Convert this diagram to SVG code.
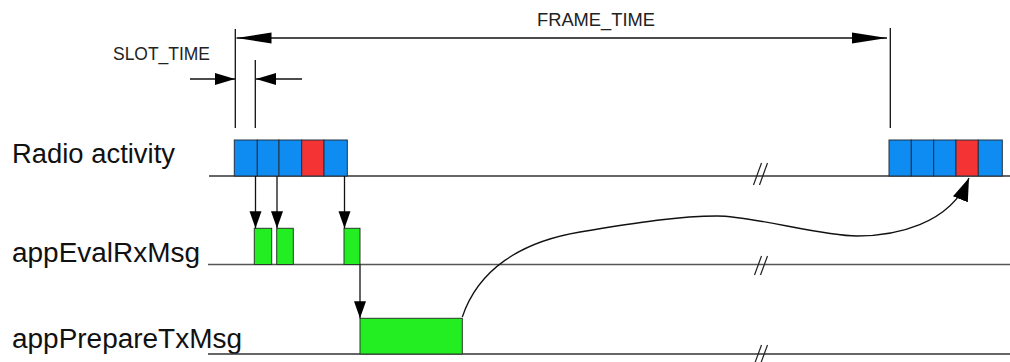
<svg xmlns="http://www.w3.org/2000/svg" width="1010" height="362" viewBox="0 0 1010 362">
  <style>
    .lbl { font-family: "Liberation Sans", Arial, sans-serif; font-size: 27px; fill: #111; }
    .dim { font-family: "Liberation Sans", Arial, sans-serif; font-size: 18px; fill: #222; }
    .axis { stroke: #333; stroke-width: 1.6; fill: none; }
    .axis2 { stroke: #555; stroke-width: 1.6; fill: none; }
    .guide { stroke: #111; stroke-width: 1.3; fill: none; }
    .brk { stroke: #222; stroke-width: 1.2; fill: none; }
    .slot-b { fill: #0f8cf2; stroke: #243040; stroke-width: 1; }
    .slot-r { fill: #f43434; stroke: #243040; stroke-width: 1; }
    .task { fill: #22ee22; stroke: #2a3a2a; stroke-width: 1; }
    .conn { stroke: #111; stroke-width: 1.3; fill: none; }
  </style>
  <defs>
    <marker id="headLong" markerUnits="userSpaceOnUse" markerWidth="36" markerHeight="12" refX="35" refY="6" orient="auto-start-reverse">
      <path d="M0,0.5 L35,6 L0,11.5 Z" fill="#000"/>
    </marker>
    <marker id="headShort" markerUnits="userSpaceOnUse" markerWidth="21" markerHeight="13" refX="20" refY="6.5" orient="auto">
      <path d="M0,0.5 L20,6.5 L0,12.5 Z" fill="#000"/>
    </marker>
    <marker id="headDown" markerUnits="userSpaceOnUse" markerWidth="18" markerHeight="13" refX="17" refY="6.5" orient="auto">
      <path d="M0,0.5 L17,6.5 L0,12.5 Z" fill="#000"/>
    </marker>
    <marker id="headCurve" markerUnits="userSpaceOnUse" markerWidth="24" markerHeight="17" refX="23" refY="8.5" orient="auto">
      <path d="M0,0.5 L23,8.5 L0,16.5 Z" fill="#000"/>
    </marker>
  </defs>

  <rect width="1010" height="362" fill="#fff"/>

  <!-- dimension guides -->
  <g id="dimensions">
    <line class="guide" x1="235.3" y1="29" x2="235.3" y2="128"/>
    <line class="guide" x1="255.3" y1="60" x2="255.3" y2="128"/>
    <line class="guide" x1="890.3" y1="28" x2="890.3" y2="128"/>
    <path class="guide" d="M236.5,38 H887" marker-start="url(#headLong)" marker-end="url(#headLong)"/>
    <path class="guide" d="M190,79 H235" marker-end="url(#headShort)"/>
    <path class="guide" d="M302,79 H256" marker-end="url(#headShort)"/>
    <text class="dim" x="537" y="26" textLength="118" lengthAdjust="spacingAndGlyphs">FRAME_TIME</text>
    <text class="dim" x="113" y="60" textLength="97" lengthAdjust="spacingAndGlyphs">SLOT_TIME</text>
  </g>

  <!-- timeline rows -->
  <g id="row-radio">
    <text class="lbl" x="12" y="163" textLength="163" lengthAdjust="spacingAndGlyphs">Radio activity</text>
    <line class="axis" x1="209" y1="176" x2="1010" y2="176"/>
    <path class="brk" d="M761.5,163 L753.5,185 M767.5,163 L759.5,185"/>
  </g>
  <g id="row-eval">
    <text class="lbl" x="12" y="262" textLength="188" lengthAdjust="spacingAndGlyphs">appEvalRxMsg</text>
    <line class="axis2" x1="208" y1="264.5" x2="1010" y2="264.5"/>
    <path class="brk" d="M761.5,256 L754.5,275 M767.5,256 L760.5,275"/>
  </g>
  <g id="row-prepare">
    <text class="lbl" x="12" y="348" textLength="230" lengthAdjust="spacingAndGlyphs">appPrepareTxMsg</text>
    <line class="axis" x1="208" y1="354" x2="1010" y2="354"/>
    <path class="brk" d="M761.5,345 L754.5,364 M767.5,345 L760.5,364"/>
  </g>

  <!-- radio slots, first frame -->
  <g id="frame-1">
    <rect class="slot-b" x="234.3" y="140" width="23" height="36"/>
    <rect class="slot-b" x="257.3" y="140" width="21.7" height="36"/>
    <rect class="slot-b" x="279" y="140" width="22.7" height="36"/>
    <rect class="slot-r" x="301.7" y="140" width="22.3" height="36"/>
    <rect class="slot-b" x="324" y="140" width="23.3" height="36"/>
  </g>

  <!-- radio slots, next frame -->
  <g id="frame-2">
    <rect class="slot-b" x="889" y="140" width="22.3" height="36"/>
    <rect class="slot-b" x="911.3" y="140" width="22.4" height="36"/>
    <rect class="slot-b" x="933.7" y="140" width="22.3" height="36"/>
    <rect class="slot-r" x="956" y="140" width="22.3" height="36"/>
    <rect class="slot-b" x="978.3" y="140" width="24" height="36"/>
  </g>

  <!-- task activity -->
  <g id="eval-1"><rect class="task" x="254.3" y="228.3" width="17.4" height="36.2"/></g>
  <g id="eval-2"><rect class="task" x="276.7" y="228.3" width="16.6" height="36.2"/></g>
  <g id="eval-3"><rect class="task" x="344" y="228.3" width="16" height="36.2"/></g>
  <g id="prepare"><rect class="task" x="360" y="318.3" width="102.3" height="35.7"/></g>

  <!-- connectors -->
  <g id="connectors">
    <path class="conn" d="M255.5,176 V228.3" marker-end="url(#headDown)"/>
    <path class="conn" d="M277,176 V228.3" marker-end="url(#headDown)"/>
    <path class="conn" d="M344.5,176 V228.3" marker-end="url(#headDown)"/>
    <path class="conn" d="M360,264.5 V318.3" marker-end="url(#headDown)"/>
    <path class="conn" d="M462.3,317 C478,270 520,242 580,232 S680,216 717,216 S820,236 857,236 S950,225 969,178" marker-end="url(#headCurve)"/>
  </g>
</svg>
